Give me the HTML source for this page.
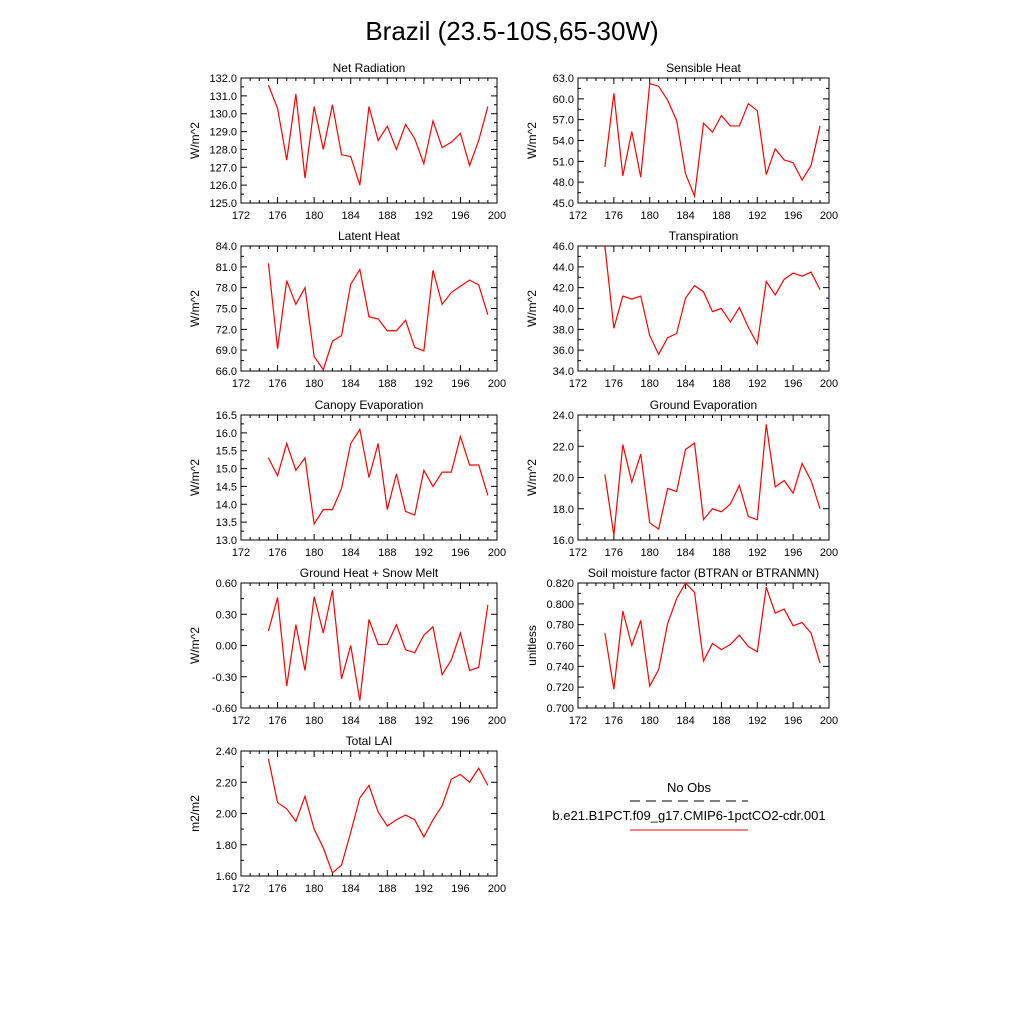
<!DOCTYPE html>
<html><head><meta charset="utf-8"><style>
body{margin:0;background:#fff}
svg{display:block;font-family:"Liberation Sans",sans-serif}
</style></head><body>
<svg id="chart" width="1024" height="1024" viewBox="0 0 1024 1024" xmlns="http://www.w3.org/2000/svg">
<rect width="1024" height="1024" fill="#fff"/>
<text x="512" y="40" font-size="26" text-anchor="middle">Brazil (23.5-10S,65-30W)</text>
<g>
<text x="689" y="792" font-size="13" text-anchor="middle">No Obs</text>
<line x1="630" y1="801" x2="748" y2="801" stroke="#000" stroke-width="1" stroke-dasharray="10,6"/>
<text x="689" y="820" font-size="13" text-anchor="middle">b.e21.B1PCT.f09_g17.CMIP6-1pctCO2-cdr.001</text>
<line x1="630" y1="830" x2="748" y2="830" stroke="#f00" stroke-width="1"/>
</g>
</svg>
<script>
const years = [175,176,177,178,179,180,181,182,183,184,185,186,187,188,189,190,191,192,193,194,195,196,197,198,199];
const xTicks = [172,176,180,184,188,192,196,200];
const netRad = [131.6,130.3,127.4,131.1,126.4,130.4,128.0,130.5,127.7,127.6,126.0,130.4,128.5,129.3,128.0,129.4,128.6,127.2,129.6,128.1,128.4,128.9,127.1,128.5,130.4];
const netRadTicks = [125,126,127,128,129,130,131,132];
const sensible = [50.2,60.8,48.9,55.3,48.7,62.2,61.8,59.8,56.9,49.2,46.0,56.5,55.2,57.6,56.1,56.1,59.3,58.3,49.1,52.8,51.2,50.8,48.3,50.4,56.1];
const sensibleTicks = [45,48,51,54,57,60,63];
const latent = [81.5,69.2,79,75.6,78,68.1,66.2,70.3,71.1,78.5,80.6,73.8,73.5,71.8,71.8,73.3,69.4,68.9,80.5,75.6,77.3,78.2,79.1,78.4,74.1];
const latentTicks = [66,69,72,75,78,81,84];
const transp = [46,38.1,41.2,40.9,41.2,37.4,35.6,37.2,37.6,41,42.2,41.6,39.7,40,38.7,40.1,38.2,36.6,42.6,41.3,42.8,43.4,43.1,43.5,41.8];
const transpTicks = [34,36,38,40,42,44,46];
const canopy = [15.3,14.8,15.7,14.95,15.3,13.45,13.85,13.85,14.45,15.7,16.1,14.75,15.7,13.85,14.85,13.8,13.7,14.95,14.5,14.9,14.9,15.9,15.1,15.1,14.25];
const canopyTicks = [13,13.5,14,14.5,15,15.5,16,16.5];
const groundEvap = [20.2,16.3,22.1,19.7,21.5,17.1,16.7,19.3,19.1,21.8,22.2,17.3,18,17.8,18.3,19.5,17.5,17.3,23.4,19.4,19.8,19,20.9,19.8,18];
const groundEvapTicks = [16,18,20,22,24];
const groundHeat = [0.14,0.46,-0.39,0.2,-0.24,0.47,0.12,0.53,-0.32,0,-0.53,0.25,0.01,0.01,0.2,-0.04,-0.07,0.1,0.18,-0.28,-0.14,0.12,-0.24,-0.21,0.39];
const groundHeatTicks = [-0.6,-0.3,0,0.3,0.6];
const soil = [0.772,0.718,0.793,0.760,0.784,0.721,0.737,0.781,0.805,0.820,0.811,0.745,0.762,0.756,0.761,0.770,0.759,0.754,0.816,0.791,0.795,0.779,0.782,0.772,0.743];
const soilTicks = [0.70,0.72,0.74,0.76,0.78,0.80,0.82];
const lai = [2.35,2.07,2.03,1.95,2.11,1.9,1.78,1.62,1.67,1.88,2.1,2.18,2.01,1.92,1.96,1.99,1.96,1.85,1.96,2.05,2.22,2.25,2.2,2.29,2.18];
const laiTicks = [1.6,1.8,2.0,2.2,2.4];

const NS='http://www.w3.org/2000/svg';
const svg=document.getElementById('chart');
function mk(tag,attrs,parent){const e=document.createElementNS(NS,tag);for(const k in attrs)e.setAttribute(k,attrs[k]);parent.appendChild(e);return e;}

function panel(name,title,ylab,data,yt,dec,x0,x1,y0,y1){
  const g=mk('g',{},svg);
  
  
  const ymin=yt[0],ymax=yt[yt.length-1];
  const sx=v=>x0+(v-172)/(200-172)*(x1-x0);
  const sy=v=>y1-(v-ymin)/(ymax-ymin)*(y1-y0);
  const t=mk('text',{x:(x0+x1)/2,y:y0-6,'font-size':12,'text-anchor':'middle'},g);
  
  
  t.textContent=title;
  const box=mk('rect',{x:x0,y:y0,width:x1-x0,height:y1-y0,fill:'none',stroke:'#000','stroke-width':1},g);
  
  
  let d='';
  for(let yr=172;yr<=200;yr++){
    const X=sx(yr);const maj=(yr-172)%4===0;const L=maj?6:3;
    d+=`M${X},${y1}v${-L}M${X},${y0}v${L}`;
  }
  for(let i=0;i<yt.length;i++){
    const Y=sy(yt[i]);d+=`M${x0},${Y}h6M${x1},${Y}h-6`;
    if(i<yt.length-1){const Ym=(Y+sy(yt[i+1]))/2;d+=`M${x0},${Ym}h3M${x1},${Ym}h-3`;}
  }
  const tk=mk('path',{d:d,stroke:'#000','stroke-width':1,fill:'none'},g);
  
  
  xTicks.forEach(v=>{
    const e=mk('text',{x:sx(v),y:y1+16,'font-size':11,'text-anchor':'middle'},g);
    
    
    e.textContent=v;
  });
  yt.forEach(v=>{
    const e=mk('text',{x:x0-4,y:sy(v)+4,'font-size':11,'text-anchor':'end'},g);
    
    
    e.textContent=v.toFixed(dec);
  });
  const yl=mk('text',{x:0,y:0,'font-size':12,'text-anchor':'middle',transform:`translate(${x0-42},${(y0+y1)/2}) rotate(-90)`},g);
  
  
  yl.textContent=ylab;
  const pts=data.map((v,i)=>sx(years[i])+','+sy(v)).join(' ');
  const ln=mk('polyline',{points:pts,fill:'none',stroke:'#f00','stroke-width':1.2},g);
  
  
}
const L=[241,497],R=[578,829];
panel('net-radiation','Net Radiation','W/m^2',netRad,netRadTicks,1,L[0],L[1],78,203);
panel('sensible-heat','Sensible Heat','W/m^2',sensible,sensibleTicks,1,R[0],R[1],78,203);
panel('latent-heat','Latent Heat','W/m^2',latent,latentTicks,1,L[0],L[1],246,371);
panel('transpiration','Transpiration','W/m^2',transp,transpTicks,1,R[0],R[1],246,371);
panel('canopy-evaporation','Canopy Evaporation','W/m^2',canopy,canopyTicks,1,L[0],L[1],415,540);
panel('ground-evaporation','Ground Evaporation','W/m^2',groundEvap,groundEvapTicks,1,R[0],R[1],415,540);
panel('ground-heat','Ground Heat + Snow Melt','W/m^2',groundHeat,groundHeatTicks,2,L[0],L[1],583,708);
panel('soil-moisture','Soil moisture factor (BTRAN or BTRANMN)','unitless',soil,soilTicks,3,R[0],R[1],583,708);
panel('total-lai','Total LAI','m2/m2',lai,laiTicks,2,L[0],L[1],751,876);
</script>
</body></html>
